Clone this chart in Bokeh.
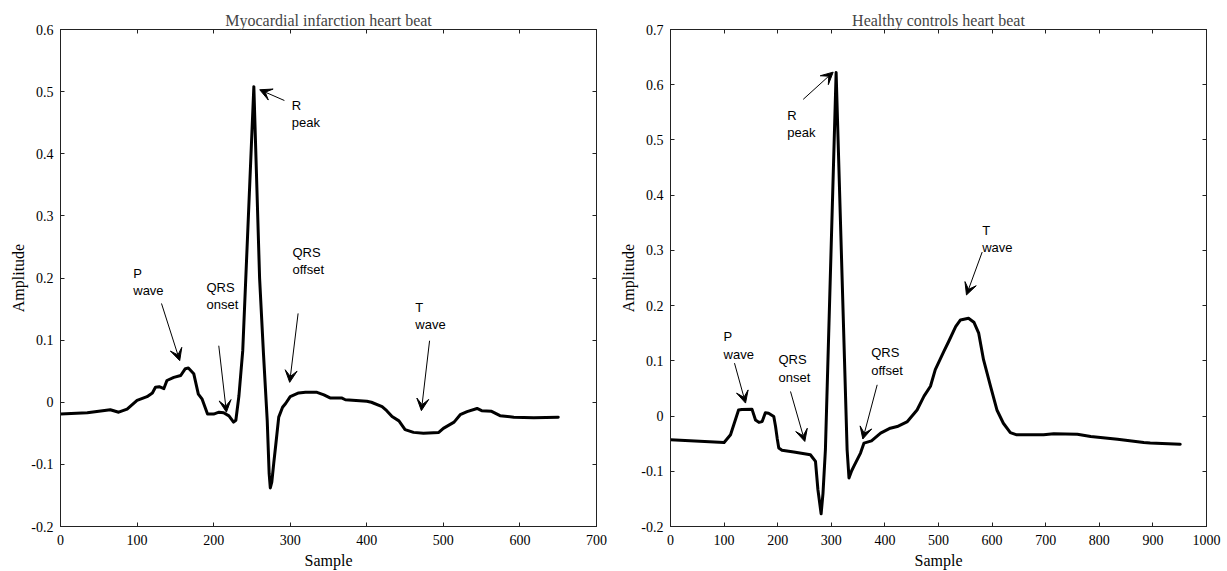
from bokeh.plotting import figure
from bokeh.models import Range1d, FixedTicker, LinearAxis, ColumnDataSource, Arrow, VeeHead
from bokeh.layouts import row
from bokeh.embed import file_html
from bokeh.resources import INLINE
from bokeh.core.properties import value

# ---------------- data: Myocardial infarction heart beat ----------------
mi_sample = [0, 35, 65, 76, 87, 100, 113, 120, 124, 129, 135, 139, 148, 157, 163, 167, 174, 180,
             185, 192, 200, 207, 213, 220, 226, 229, 233, 238, 252.5, 260, 265, 270, 272.5, 274,
             276, 278.5, 281, 285, 290, 294, 300, 311, 320, 335, 344, 352, 367, 372, 400, 406,
             420, 426, 433, 442, 450, 461, 474, 494, 500, 514, 522, 531, 544, 550, 563, 574,
             592, 618, 650]
mi_amp = [-0.019, -0.017, -0.012, -0.016, -0.011, 0.003, 0.009, 0.015, 0.024, 0.025, 0.022, 0.035,
          0.040, 0.043, 0.054, 0.055, 0.046, 0.013, 0.005, -0.019, -0.019, -0.016, -0.017, -0.022,
          -0.032, -0.029, 0.010, 0.083, 0.508, 0.20, 0.08, -0.030, -0.115, -0.138, -0.128, -0.098,
          -0.070, -0.024, -0.008, -0.002, 0.009, 0.015, 0.016, 0.016, 0.012, 0.007, 0.007, 0.004,
          0.0015, 0.0, -0.007, -0.0135, -0.023, -0.030, -0.044, -0.0485, -0.050, -0.0485, -0.042,
          -0.032, -0.020, -0.015, -0.010, -0.0135, -0.0146, -0.0216, -0.024, -0.025, -0.024]

mi_xticks = [0, 100, 200, 300, 400, 500, 600, 700]
mi_xlabels = ["0", "100", "200", "300", "400", "500", "600", "700"]
mi_yticks = [-0.2, -0.1, 0.0, 0.1, 0.2, 0.3, 0.4, 0.5, 0.6]
mi_ylabels = ["-0.2", "-0.1", "0", "0.1", "0.2", "0.3", "0.4", "0.5", "0.6"]

mi_note_text = ["R\npeak", "P\nwave", "QRS\nonset", "QRS\noffset", "T\nwave"]
mi_note_x = [302, 95, 190.6, 302.9, 463.4]
mi_note_y = [0.4897, 0.219, 0.1966, 0.253, 0.165]
mi_arrow_x0 = [292.4, 131.9, 206.7, 310.3, 482]
mi_arrow_y0 = [0.4857, 0.159, 0.091, 0.143, 0.099]
mi_arrow_x1 = [260.2, 155.7, 216.7, 299.3, 471.3]
mi_arrow_y1 = [0.503, 0.067, -0.016, 0.032, -0.0135]

# ---------------- data: Healthy controls heart beat ----------------
hc_sample = [0, 100, 112, 127, 133, 152, 158.6, 165, 171, 177, 183, 192.7, 196, 199, 202, 208, 230,
             261, 270.5, 275, 281, 284.5, 289, 309, 329.5, 333, 338, 342, 354.5, 361, 375, 392, 410,
             423, 442, 460, 473, 485, 494, 510, 519, 532, 541, 556, 566, 575, 584, 597, 609, 621,
             634, 646, 696, 715, 759, 784, 834, 883, 895, 951]
hc_amp = [-0.043, -0.048, -0.034, 0.011, 0.012, 0.0125, -0.007, -0.0115, -0.010, 0.006, 0.005,
          -0.001, -0.019, -0.040, -0.058, -0.062, -0.065, -0.070, -0.082, -0.133, -0.177, -0.14,
          -0.061, 0.622, -0.061, -0.112, -0.099, -0.091, -0.067, -0.049, -0.045, -0.031, -0.022,
          -0.019, -0.010, 0.011, 0.036, 0.054, 0.084, 0.117, 0.135, 0.162, 0.174, 0.177, 0.170,
          0.150, 0.102, 0.054, 0.011, -0.013, -0.030, -0.034, -0.034, -0.032, -0.033, -0.037,
          -0.042, -0.048, -0.049, -0.051]

hc_xticks = [0, 100, 200, 300, 400, 500, 600, 700, 800, 900, 1000]
hc_xlabels = ["0", "100", "200", "300", "400", "500", "600", "700", "800", "900", "1000"]
hc_yticks = [-0.2, -0.1, 0.0, 0.1, 0.2, 0.3, 0.4, 0.5, 0.6, 0.7]
hc_ylabels = ["-0.2", "-0.1", "0", "0.1", "0.2", "0.3", "0.4", "0.5", "0.6", "0.7"]

hc_note_text = ["R\npeak", "P\nwave", "QRS\nonset", "QRS\noffset", "T\nwave"]
hc_note_x = [217.7, 98.9, 201.5, 374.4, 581.5]
hc_note_y = [0.558, 0.157, 0.1153, 0.128, 0.350]
hc_arrow_x0 = [247.6, 119.4, 223.9, 385.6, 581.5]
hc_arrow_y0 = [0.5735, 0.0958, 0.0445, 0.0566, 0.297]
hc_arrow_x1 = [303.5, 140, 250.6, 358.8, 552.2]
hc_arrow_y1 = [0.6228, 0.0235, -0.046, -0.0416, 0.2193]

SERIF = "Liberation Serif"
SANS = "Liberation Sans"
FRAME = "#222222"
H = 571


def style_axis(ax, ticks, labels, show):
    ax.ticker = FixedTicker(ticks=ticks)
    ax.minor_tick_line_color = None
    ax.major_tick_in = 4
    ax.major_tick_out = 0
    ax.axis_line_color = FRAME
    ax.major_tick_line_color = FRAME
    ax.major_label_text_font = SERIF
    if show:
        ax.major_label_overrides = {t: l for t, l in zip(ticks, labels)}
        ax.major_label_text_font_size = "14px"
        ax.major_label_text_color = "black"
    else:
        ax.major_label_overrides = {t: "" for t in ticks}
        ax.major_label_text_font_size = "0px"
        ax.major_label_text_color = None
        ax.major_label_standoff = 0
    ax.axis_label_text_font = SERIF
    ax.axis_label_text_font_size = "16px"
    ax.axis_label_text_font_style = "normal"
    ax.axis_label_text_color = "black"


def panel(title, xs, ys, xr, yr, xt, xl, yt, yl, nt, nx, ny, ax0, ay0, ax1, ay1,
          width, bl, br):
    p = figure(width=width, height=H, x_range=Range1d(*xr), y_range=Range1d(*yr),
               output_backend="svg", toolbar_location=None, title=title,
               min_border_left=bl, min_border_right=br, min_border_top=29,
               min_border_bottom=44, x_axis_label="Sample", y_axis_label="Amplitude")
    p.grid.visible = False
    p.outline_line_color = FRAME
    p.outline_line_width = 1
    p.background_fill_color = "white"
    p.border_fill_color = "white"
    p.title.text_font = SERIF
    p.title.text_font_size = "16px"
    p.title.text_font_style = "normal"
    p.title.align = "center"
    p.title.standoff = 2

    style_axis(p.xaxis[0], xt, xl, True)
    p.xaxis[0].major_label_standoff = 8
    p.xaxis[0].axis_label_standoff = 4
    style_axis(p.yaxis[0], yt, yl, True)
    p.yaxis[0].major_label_standoff = 7
    p.yaxis[0].axis_label_standoff = 1

    top = LinearAxis()
    style_axis(top, xt, xl, False)
    p.add_layout(top, "above")
    right = LinearAxis()
    style_axis(right, yt, yl, False)
    p.add_layout(right, "right")

    p.line(xs, ys, line_color="black", line_width=3, line_join="round", line_cap="round")

    src = ColumnDataSource(dict(x0=ax0, y0=ay0, x1=ax1, y1=ay1))
    p.add_layout(Arrow(x_start="x0", y_start="y0", x_end="x1", y_end="y1", source=src,
                       line_color="black", line_width=1,
                       end=VeeHead(size=12, fill_color="black", line_color="black",
                                   line_width=1)))
    tsrc = ColumnDataSource(dict(x=nx, y=ny, t=nt))
    p.text(x="x", y="y", text="t", source=tsrc, text_font=value(SANS), text_font_size="13px",
           text_baseline="top", text_align="left", text_line_height=1.15, text_color="black")
    return p


p1 = panel("Myocardial infarction heart beat", mi_sample, mi_amp, (0, 700), (-0.2, 0.6),
           mi_xticks, mi_xlabels, mi_yticks, mi_ylabels, mi_note_text, mi_note_x, mi_note_y,
           mi_arrow_x0, mi_arrow_y0, mi_arrow_x1, mi_arrow_y1, 612, 60, 16)
p2 = panel("Healthy controls heart beat", hc_sample, hc_amp, (0, 1000), (-0.2, 0.7),
           hc_xticks, hc_xlabels, hc_yticks, hc_ylabels, hc_note_text, hc_note_x, hc_note_y,
           hc_arrow_x0, hc_arrow_y0, hc_arrow_x1, hc_arrow_y1, 615, 58, 21)

layout = row(p1, p2)
open("out.html", "w").write(file_html(layout, INLINE))
